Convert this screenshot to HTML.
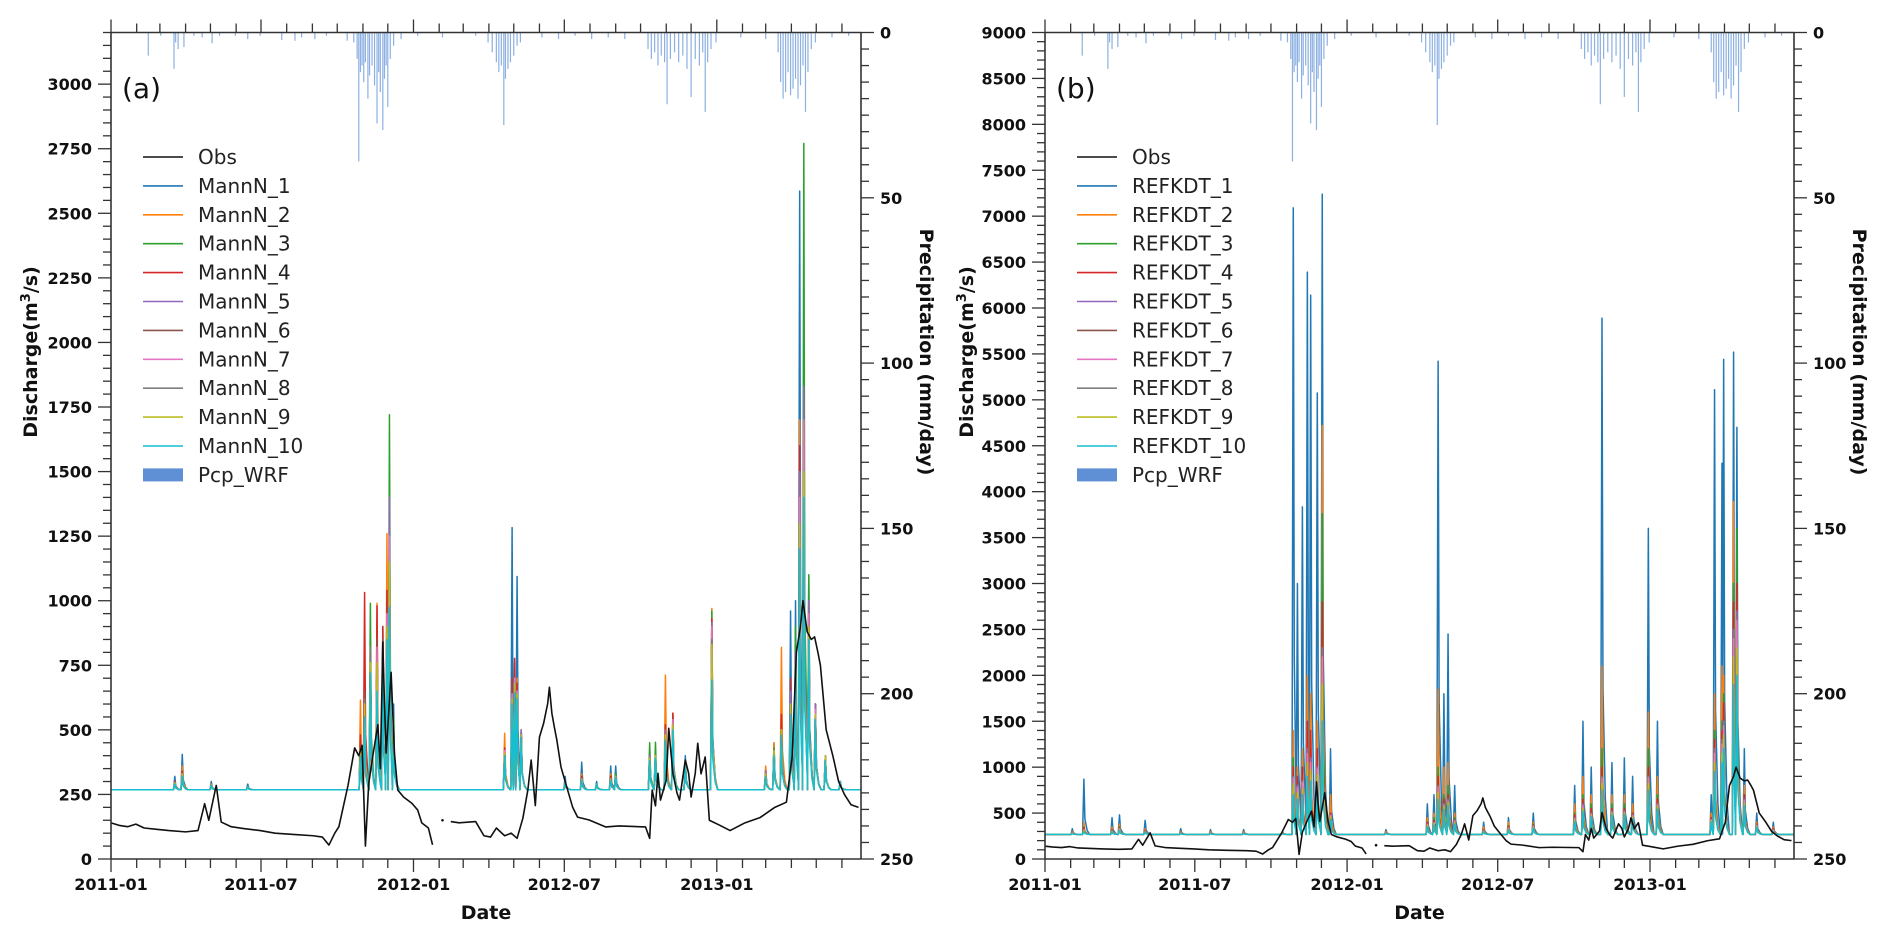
<!DOCTYPE html>
<html><head><meta charset="utf-8">
<style>
html,body{margin:0;padding:0;background:#fff;}
svg{display:block;font-family:"DejaVu Sans","Liberation Sans",sans-serif;}
</style></head>
<body>
<svg id="fig" width="1892" height="934" viewBox="0 0 1892 934" xmlns="http://www.w3.org/2000/svg"></svg>
<script>
// ---------- shared data ----------
const precipDays = [45,60,76,78,81,88,100,110,122,131,150,165,180,206,222,230,246,260,285,293,297,299,301,303,305,307,310,312,315,318,321,323,325,328,330,332,334,337,341,350,370,400,440,455,460,465,468,471,474,476,479,482,486,490,494,520,540,560,580,600,620,648,652,656,660,664,668,671,675,680,685,690,695,700,705,710,714,717,720,724,730,760,790,805,808,811,814,817,820,823,826,829,832,835,838,841,845,850,870,890];
const precipMm   = [7,1,11,3,5,4.4,1,1.5,3.3,1,1,2,1,2.3,2.5,1.5,2,1,2.5,3,8,39,12,10,15,9,20,13,10,16,27.5,12,18,29.5,14,10,22.5,8,4,2,1,1.5,1,3,6,9,12,10,28,14,11,9,7,4,3,1.5,2,1,2,1.5,2,5,8,6,10,7,9,21.7,8,6,9,7,11,19.5,8,10,6,24,9,5,3,1.5,2,6,15,20,18,12,19,17,14,20,16,10,24,12,5,3,1.5,1];

const obsDays = [0,10,20,30,40,55,70,90,105,113,118,127,133,145,160,180,198,220,244,255,263,270,275,286,294,299,303,307,311,316,322,325,328,330,332,335,338,342,346,353,363,370,375,383,388,null,400,null,410,420,440,450,458,465,475,483,490,497,503,507,512,517,522,527,529,532,535,538,543,550,557,563,577,597,613,645,650,653,657,660,663,670,673,678,683,686,693,697,700,705,708,712,717,722,735,747,765,783,801,815,822,827,832,835,840,845,849,853,856,863,871,878,885,893,902];
const obsVals = [140,130,125,135,120,115,110,105,110,214,150,285,143,125,118,110,100,95,90,85,54,100,125,285,430,400,440,50,293,400,520,350,840,600,410,560,723,410,267,240,216,190,140,120,55,null,150,null,145,140,145,90,85,120,90,100,80,158,267,383,207,472,525,603,665,564,510,460,356,278,201,162,151,124,128,124,80,267,206,332,228,305,506,332,255,228,383,332,240,332,448,330,395,150,130,110,140,160,200,220,400,800,900,1000,880,850,860,800,750,500,400,300,250,210,200];

// ---------- panel (a) sim data ----------
const eventDaysA = [77,86,121,165,301,306,313,321,328,333,336,341,475,484,487,490,495,548,568,586,603,609,650,657,669,678,693,725,790,800,809,820,826,831,836,842,850,862,880];
const mannN1  = [320,405,300,290,450,480,700,600,900,900,1300,600,400,1283,700,1094,500,320,375,300,360,360,420,400,500,520,400,900,350,450,500,960,1000,2586,1500,1100,600,400,300];
const mannN2  = [300,360,290,280,615,500,650,990,800,1260,1150,500,487,700,760,700,480,300,330,290,330,320,400,420,712,565,380,970,360,450,820,600,800,1700,1600,1000,600,400,300];
const mannN3  = [295,330,285,280,450,600,990,700,850,1000,1720,550,420,650,700,650,500,300,320,290,320,330,450,452,500,560,380,960,340,430,520,650,900,1500,2770,1100,600,400,300];
const mannN4  = [300,340,285,280,480,1032,800,980,900,1040,1150,500,430,700,777,680,500,300,320,290,320,320,400,400,520,565,370,930,340,420,560,700,800,1600,1790,1000,600,400,300];
const mannN5  = [295,330,285,280,430,600,750,800,850,950,1400,500,420,640,700,650,500,300,310,290,310,320,400,400,500,530,380,915,340,420,500,650,800,1500,1830,1000,600,400,300];
const mannN6  = [295,330,285,280,430,650,800,850,850,900,1100,500,420,640,700,640,480,300,310,290,310,320,390,400,480,520,370,880,330,420,500,600,750,1400,1600,950,580,400,300];
const mannN7  = [295,330,285,280,420,600,750,820,830,950,1250,500,420,640,700,650,480,300,310,290,310,320,390,400,480,540,370,900,330,420,500,600,750,1400,1700,950,580,400,300];
const mannN8  = [295,330,285,280,420,620,820,750,800,900,1100,480,410,620,680,630,480,300,310,290,310,320,390,400,480,520,370,850,330,420,500,600,750,1300,1500,900,560,400,300];
const mannN9  = [295,330,285,280,420,600,760,760,820,900,1150,480,410,620,680,640,480,300,310,290,310,320,390,400,480,520,370,830,330,420,500,600,750,1300,1500,900,560,400,300];
const mannN10 = [290,320,285,280,400,550,720,650,750,850,975,460,400,600,642,620,470,300,305,290,305,315,380,390,460,500,360,693,320,400,480,560,700,1200,1400,850,540,380,300];

// ---------- panel (b) sim data ----------
const eventDaysB = [33,47,81,90,121,164,200,240,287,300,305,311,317,321,329,335,345,412,462,470,475,482,487,495,530,560,590,640,650,660,673,685,700,710,729,740,805,809,818,820,832,836,845,860,880];
const refkdt1  = [330,870,450,480,420,330,320,320,300,7090,3000,3835,6390,6140,5075,7240,1200,320,600,700,5420,1800,2450,800,400,450,500,800,1500,1000,5890,1050,1100,900,3600,1500,700,5110,4310,5440,5520,4700,1200,500,400];
const refkdt2  = [300,400,350,380,330,300,300,300,290,1400,1000,1200,2000,1800,1500,4720,700,300,450,500,1850,1000,1050,500,350,400,400,600,900,700,2100,700,700,600,1600,900,500,1800,2100,2000,3890,2200,800,400,350];
const refkdt3  = [290,350,320,350,310,290,290,290,280,1100,800,900,1300,1200,1000,3760,500,290,400,450,1000,700,800,450,320,360,380,500,700,600,1200,600,600,500,1200,700,450,1400,1500,1800,3000,3600,700,380,330];
const refkdt4  = [290,340,320,340,310,290,290,290,280,1000,900,1000,1500,1400,1200,2800,500,290,400,420,900,650,700,430,320,350,370,480,650,550,1000,550,550,500,1000,650,450,1300,1400,1700,2800,3000,700,380,330];
const refkdt5  = [285,320,310,330,300,285,285,285,280,900,800,850,1200,1100,1000,2300,480,285,380,400,800,600,650,420,310,340,360,450,600,500,900,520,520,480,900,600,430,1200,1300,1500,2500,2700,650,370,320];
const refkdt6  = [285,320,305,325,300,285,285,285,280,850,750,800,1100,1000,950,2000,460,285,370,390,750,580,620,400,300,330,350,430,560,480,850,500,500,460,850,580,420,1100,1200,1400,2300,2400,620,360,310];
const refkdt7  = [285,320,305,330,300,285,285,285,280,880,780,830,1150,1050,980,2200,470,285,375,395,780,590,630,410,305,335,355,440,580,490,880,510,510,470,880,590,425,1150,1250,1450,2400,2600,640,365,315];
const refkdt8  = [280,310,300,320,295,280,280,280,278,800,700,750,1000,950,900,1800,450,280,360,380,700,560,600,390,300,320,340,420,540,470,800,490,490,450,800,560,410,1000,1100,1300,2100,2200,600,350,300];
const refkdt9  = [280,310,300,320,295,280,280,280,278,820,720,760,1050,970,920,1900,455,280,365,385,720,565,610,395,300,325,345,425,550,475,820,495,495,455,820,570,415,1050,1150,1350,2200,2300,610,355,305];
const refkdt10 = [275,300,295,310,290,275,275,275,275,700,650,700,900,850,800,1500,430,275,350,370,650,540,580,380,295,315,335,410,520,460,750,480,480,440,750,540,400,950,1050,1200,1900,2000,580,345,295];

const tickLabelsX = ["2011-01","2011-07","2012-01","2012-07","2013-01"];
const tickDaysX = [0,181,365,547,731];
const precipTicks = [0,50,100,150,200,250];

const COLORS = ["#1f77b4","#ff7f0e","#2ca02c","#d62728","#9467bd","#8c564b","#e377c2","#7f7f7f","#bcbd22","#17becf"];
const NS = "http://www.w3.org/2000/svg";
const svg = document.getElementById("fig");
function mk(tag, attrs, parent){
  const e = document.createElementNS(NS, tag);
  for (const k in attrs) e.setAttribute(k, attrs[k]);
  (parent||svg).appendChild(e); return e;
}

function panel(cfg){
  const g = mk("g", {});
  
  
  const L=cfg.L, R=cfg.R, T=32.5, B=859, DAYS=905, BASE=268;
  const x = d => L + d*(R-L)/DAYS;
  const y = v => B - v*(B-T)/cfg.ymax;
  const yp = p => T + p*(B-T)/250;

  // precipitation bars
  const pg = mk("g", {}, g);
  
  
  for (let i=0;i<precipDays.length;i++){
    const r = mk("rect", {x:x(precipDays[i])-0.6, y:T, width:1.2, height:yp(precipMm[i])-T, fill:"#5b8fd6", opacity:0.7}, pg);
    
    
  }

  // simulation series
  cfg.series.forEach((vals, si) => {
    const pts = [[x(0), y(BASE)]];
    let lastX = 0;
    for (let i=0;i<cfg.days.length;i++){
      const d = cfg.days[i];
      const nd = i+1<cfg.days.length ? cfg.days[i+1] : DAYS;
      const v = vals[i];
      const pre = Math.max(d-1.6, lastX);
      if (pre > lastX || i===0) pts.push([x(pre), y(BASE)]);
      pts.push([x(d), y(v)]);
      const t1 = Math.min(d+1.2, nd-2);
      const t2 = Math.min(d+4, nd-1.7);
      let end = d;
      if (t1 > d) { pts.push([x(t1), y(BASE+(v-BASE)*0.28)]); end = t1; }
      if (t2 > t1) { pts.push([x(t2), y(BASE+(v-BASE)*0.07)]); end = t2; }
      const t3 = Math.min(end+3, nd-1.6);
      if (t3 > end) { pts.push([x(t3), y(BASE)]); end = t3; }
      lastX = end;
    }
    pts.push([x(DAYS), y(BASE)]);
    const pl = mk("polyline", {points: pts.map(p=>p.join(",")).join(" "), fill:"none", stroke:COLORS[si], "stroke-width":1.5, "stroke-linejoin":"round"}, g);
    
    
  });

  // observations (with gaps)
  let segs=[], cur=[];
  for (let i=0;i<obsDays.length;i++){
    if (obsDays[i]===null){ if(cur.length) segs.push(cur); cur=[]; continue; }
    cur.push([x(obsDays[i]), y(obsVals[i])]);
  }
  if (cur.length) segs.push(cur);
  segs.forEach(s=>{
    if (s.length===1){
      const c = mk("circle",{cx:s[0][0],cy:s[0][1],r:1.3,fill:"#111"},g);
      
      
    } else {
      const pl = mk("polyline",{points:s.map(p=>p.join(",")).join(" "),fill:"none",stroke:"#111","stroke-width":1.6,"stroke-linejoin":"round"},g);
      
      
    }
  });

  // axes frame
  const ax = {stroke:"#333","stroke-width":1.6};
  mk("line",{x1:L,y1:B,x2:R,y2:B,...ax},g);
  mk("line",{x1:L,y1:T,x2:R,y2:T,...ax},g);
  mk("line",{x1:L,y1:T,x2:L,y2:B,...ax},g);
  mk("line",{x1:R,y1:T,x2:R,y2:B,...ax},g);

  // left ticks
  for (let v=0; v<=cfg.ymax+0.1; v+=cfg.minor){
    const major = Math.abs(v/cfg.major - Math.round(v/cfg.major))<1e-6;
    mk("line",{x1:L-(major?13:8),y1:y(v),x2:L,y2:y(v),stroke:"#333","stroke-width":1.3},g);
    if (major){
      const t = mk("text",{x:L-19,y:y(v)+6,"text-anchor":"end","font-size":16,"font-weight":"bold",fill:"#111"},g);
      t.textContent = v;
      
      
    }
  }
  // right precip ticks
  for (let p=0;p<=250;p+=5){
    const major = p%50===0;
    mk("line",{x1:R,y1:yp(p),x2:R+(major?13:8),y2:yp(p),stroke:"#333","stroke-width":1.3},g);
  }
  precipTicks.forEach(p=>{
    const t = mk("text",{x:R+19,y:yp(p)+6,"font-size":16,"font-weight":"bold",fill:"#111"},g);
    t.textContent = p;
    
    
  });
  // x ticks (monthly minor)
  const monthStarts=[0,31,59,90,120,151,181,212,243,273,304,334,365,396,425,456,486,517,547,578,609,639,670,700,731,762,790,821,851,882];
  monthStarts.forEach(d=>{
    const major = tickDaysX.indexOf(d)>=0;
    const len = major?13:9;
    mk("line",{x1:x(d),y1:B,x2:x(d),y2:B+len,stroke:"#333","stroke-width":1.3},g);
    mk("line",{x1:x(d),y1:T,x2:x(d),y2:T-len,stroke:"#333","stroke-width":1.3},g);
  });
  tickDaysX.forEach((d,i)=>{
    const t = mk("text",{x:x(d),y:B+31,"text-anchor":"middle","font-size":16,"font-weight":"bold",fill:"#111"},g);
    t.textContent = tickLabelsX[i];
    
    
  });
  // titles
  let t = mk("text",{x:(L+R)/2,y:B+60,"text-anchor":"middle","font-size":19,"font-weight":"bold",fill:"#111"},g);
  t.textContent="Date";
  
  
  t = mk("text",{x:0,y:0,"text-anchor":"middle","font-size":19,"font-weight":"bold",fill:"#111",transform:`translate(${cfg.ltx},352) rotate(-90)`},g);
  t.innerHTML='Discharge(m<tspan dy="-7" font-size="13">3</tspan><tspan dy="7">/s)</tspan>';
  
  
  t = mk("text",{x:0,y:0,"text-anchor":"middle","font-size":19,"font-weight":"bold",fill:"#111",transform:`translate(${R+59},352) rotate(90)`},g);
  t.textContent="Precipitation (mm/day)";
  
  
  t = mk("text",{x:L+11,y:98,"font-size":28,fill:"#111"},g);
  t.textContent=cfg.tag;
  
  

  // legend
  const lg = mk("g",{},g);
  
  
  const names = ["Obs"].concat(cfg.labels);
  const cols = ["#111"].concat(COLORS);
  names.forEach((n,i)=>{
    const yy = 157 + i*28.9;
    mk("line",{x1:L+32,y1:yy,x2:L+72,y2:yy,stroke:cols[i],"stroke-width":1.6},lg);
    const tx = mk("text",{x:L+87,y:yy+7,"font-size":20,fill:"#222"},lg);
    tx.textContent=n;
    
    
  });
  const yy = 157 + 11*28.9;
  mk("rect",{x:L+32,y:yy-6.5,width:40,height:13,fill:"#5f8fd4"},lg);
  const tx = mk("text",{x:L+87,y:yy+7,"font-size":20,fill:"#222"},lg);
  tx.textContent="Pcp_WRF";
  
  
}

panel({name:"panel-a", tag:"(a)", L:111, R:861, ymax:3200, major:250, minor:50, ltx:37,
  days:eventDaysA,
  series:[mannN1,mannN2,mannN3,mannN4,mannN5,mannN6,mannN7,mannN8,mannN9,mannN10],
  labels:["MannN_1","MannN_2","MannN_3","MannN_4","MannN_5","MannN_6","MannN_7","MannN_8","MannN_9","MannN_10"]});
panel({name:"panel-b", tag:"(b)", L:1045, R:1794, ymax:9000, major:500, minor:100, ltx:973,
  days:eventDaysB,
  series:[refkdt1,refkdt2,refkdt3,refkdt4,refkdt5,refkdt6,refkdt7,refkdt8,refkdt9,refkdt10],
  labels:["REFKDT_1","REFKDT_2","REFKDT_3","REFKDT_4","REFKDT_5","REFKDT_6","REFKDT_7","REFKDT_8","REFKDT_9","REFKDT_10"]});
</script>
</body></html>
